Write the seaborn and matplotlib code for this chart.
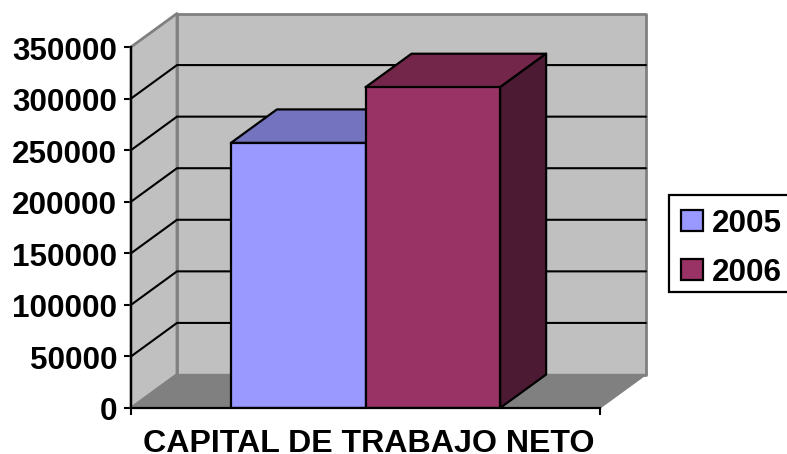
import pandas as pd
import matplotlib
matplotlib.use("Agg")
import matplotlib.pyplot as plt
from matplotlib.patches import Polygon, Rectangle
from matplotlib.transforms import ScaledTranslation
import seaborn as sns

# values
category = ["CAPITAL DE TRABAJO NETO"]
years = ["2005", "2006"]
values = [257000, 311000]
y_ticks = [0, 50000, 100000, 150000, 200000, 250000, 300000, 350000]

front_colors = ["#9999FF", "#993366"]
top_colors = ["#7373BF", "#732649"]
side_colors = ["#393960", "#4D1A33"]

sns.set_style("white")
plt.rcParams["font.family"] = ["Liberation Sans", "DejaVu Sans"]
plt.rcParams["font.weight"] = "bold"
plt.rcParams["font.size"] = 22.6
plt.rcParams["text.color"] = "black"
plt.rcParams["axes.labelcolor"] = "black"
plt.rcParams["xtick.color"] = "black"
plt.rcParams["ytick.color"] = "black"

W, H = 787, 454
fig = plt.figure(figsize=(W / 100, H / 100), dpi=100)
ax = fig.add_axes([131 / W, (H - 408) / H, 469 / W, 361 / H])

df = pd.DataFrame({"cat": category * 2, "year": years, "value": values})
sns.barplot(data=df, x="cat", y="value", hue="year", hue_order=years,
            palette=front_colors, width=0.574, saturation=1,
            edgecolor="black", linewidth=1.6, zorder=5, ax=ax)

ax.set_xlim(-0.5, 0.5)
ax.set_ylim(0, 350000)

# depth of the fake 3d box, in data units
dx = 46 / 469
dy = 33.5 / 361 * 350000
x0, x1 = -0.5, 0.5
y_top = y_ticks[-1]


def face(points, color, edge, z, lw=1.6):
    ax.add_patch(Polygon(points, closed=True, facecolor=color, edgecolor=edge,
                         linewidth=lw, zorder=z, clip_on=False, joinstyle="round"))


# walls and floor
face([(x0, 0), (x0 + dx, dy), (x0 + dx, y_top + dy), (x0, y_top)], "#C0C0C0", "#808080", 1, 2)
face([(x0 + dx, dy), (x1 + dx, dy), (x1 + dx, y_top + dy), (x0 + dx, y_top + dy)], "#C0C0C0", "#808080", 1, 2)
face([(x0, 0), (x1, 0), (x1 + dx, dy), (x0 + dx, dy)], "#808080", "#808080", 1.5, 1)

# gridlines go round the left wall and along the back
for t in y_ticks[1:-1]:
    ax.plot([x0, x0 + dx, x1 + dx], [t, t + dy, t + dy], color="black", lw=1.5,
            zorder=2, clip_on=False, solid_joinstyle="miter")

# top and side faces of each bar
bars = [p for c in ax.containers for p in c]
for i, bar in enumerate(bars):
    left = bar.get_x()
    right = left + bar.get_width()
    top = bar.get_height()
    face([(left, top), (right, top), (right + dx, top + dy), (left + dx, top + dy)],
         top_colors[i], "black", 3 + i * 0.1)
    face([(right, 0), (right + dx, dy), (right + dx, top + dy), (right, top)],
         side_colors[i], "black", 3 + i * 0.1)

ax.set_yticks(y_ticks)
ax.set_yticklabels([str(t) for t in y_ticks])
ax.set_xticks([x0, x1])
ax.set_xticklabels([])
ax.tick_params(axis="both", which="major", direction="out", length=5, width=1.5,
               color="black", left=True, bottom=True, pad=5)
# labels sit a pixel below their ticks in the reference
for lab in ax.get_yticklabels():
    lab.set_transform(lab.get_transform() + ScaledTranslation(0, -1 / 100, fig.dpi_scale_trans))

ax.set_ylabel("")
ax.set_xlabel(category[0], fontweight="bold", fontsize=23.15)
ax.xaxis.set_label_coords(0.5064, -(452 - 408) / 361, transform=ax.transAxes)
ax.xaxis.label.set_va("baseline")

sns.despine(ax=ax, top=True, right=True)
for side in ["left", "bottom"]:
    ax.spines[side].set_linewidth(1.6)
    ax.spines[side].set_color("black")
    ax.spines[side].set_zorder(7)

# legend box drawn apart so the entries can sit lower in it, as in the reference
fig.add_artist(Rectangle((669 / W, (H - 292) / H), 130 / W, 97 / H, transform=fig.transFigure,
                         facecolor="white", edgecolor="black", linewidth=1.6, zorder=-1))
handles, labels = ax.get_legend_handles_labels()
leg = ax.legend(handles, labels, loc="lower left",
                bbox_to_anchor=(670 / W, (H - 299) / H), bbox_transform=fig.transFigure,
                borderaxespad=0, frameon=False,
                borderpad=0.36, handlelength=0.68, handleheight=0.65,
                handletextpad=0.28, labelspacing=0.6, title=None)

fig.savefig("out.png", dpi=100)
